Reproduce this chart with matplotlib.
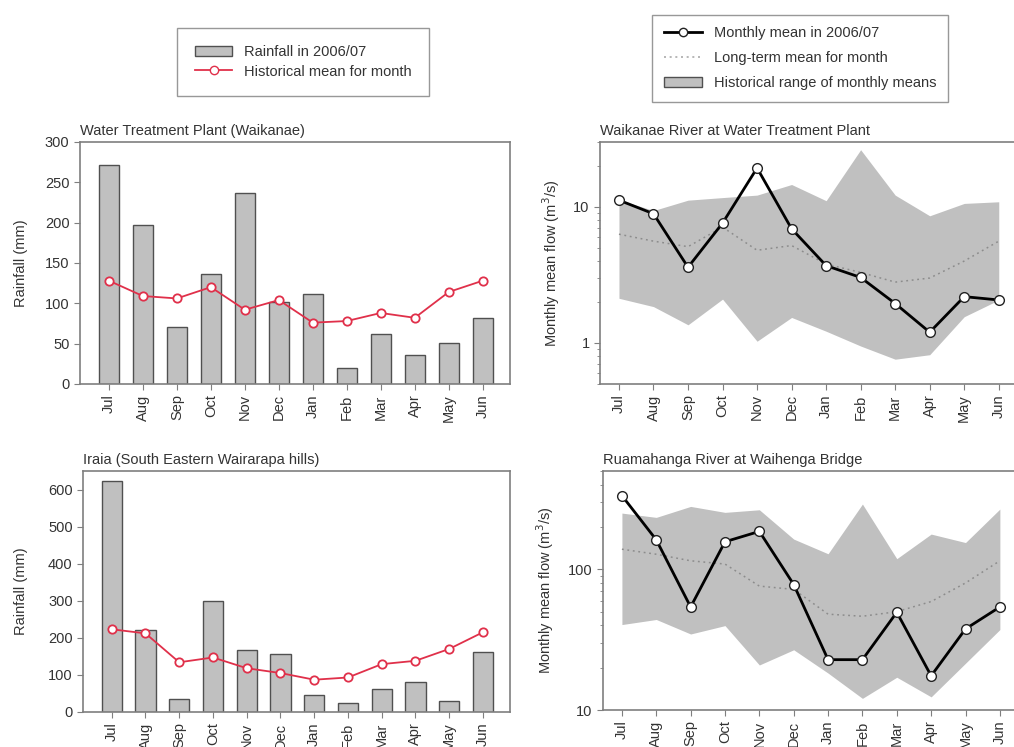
#!/usr/bin/env python3
"""
plot.py - rainfall and river flow for 2006/07 against the historical record
"""
import numpy as np
import matplotlib
matplotlib.use('Agg')
import matplotlib.pyplot as plt
from matplotlib.patches import Patch
from matplotlib.lines import Line2D
from matplotlib.ticker import LogLocator, NullFormatter

months = ['Jul', 'Aug', 'Sep', 'Oct', 'Nov', 'Dec', 'Jan', 'Feb', 'Mar', 'Apr', 'May', 'Jun']

# rainfall, Water Treatment Plant (Waikanae)
wtp_rain = [271, 197, 71, 136, 237, 102, 112, 20, 62, 36, 51, 82]
wtp_hist = [128, 109, 106, 120, 92, 104, 76, 78, 88, 82, 114, 128]

# rainfall, Iraia
iraia_rain = [623, 221, 35, 300, 168, 157, 46, 25, 61, 80, 30, 161]
iraia_hist = [223, 212, 134, 147, 118, 105, 87, 93, 129, 138, 170, 215]

# flow, Waikanae River at Water Treatment Plant
wai_flow = [11.2, 8.9, 3.6, 7.6, 19.3, 6.9, 3.7, 3.03, 1.95, 1.2, 2.19, 2.07]
wai_mean = [6.3, 5.6, 5.1, 7.1, 4.8, 5.2, 3.8, 3.3, 2.8, 3.0, 4.0, 5.6]
wai_hi = [11.3, 9.4, 11.2, 11.7, 12.2, 14.6, 11.1, 26.3, 12.2, 8.6, 10.6, 10.9]
wai_lo = [2.13, 1.85, 1.36, 2.1, 1.03, 1.54, 1.22, 0.95, 0.76, 0.82, 1.56, 2.07]

# flow, Ruamahanga River at Waihenga Bridge
rua_flow = [334, 162, 54, 157, 186, 78, 22.8, 22.8, 49.5, 17.5, 37.7, 54]
rua_mean = [139, 128, 115, 109, 76, 72, 48, 46.4, 50, 59, 80, 115]
rua_hi = [251, 234, 280, 254, 265, 164, 129, 291, 119, 178, 155, 268]
rua_lo = [40.5, 44, 34.7, 39.8, 20.9, 26.8, 18.3, 12.1, 17.1, 12.4, 21.5, 37.3]

plt.rcParams['font.family'] = ['Liberation Sans', 'DejaVu Sans']
plt.rcParams['font.size'] = 10

GRAY = '#7f7f7f'
TXT = '#333333'
BARC = '#c0c0c0'
RED = '#e0304a'

x = np.arange(len(months))


def style(ax):
    for s in ax.spines.values():
        s.set_color(GRAY)
        s.set_linewidth(1.2)
    ax.tick_params(axis='both', which='both', direction='out', color=GRAY,
                   labelcolor=TXT, labelsize=10.5)
    ax.tick_params(which='major', length=4)
    ax.tick_params(which='minor', length=2.5)
    ax.set_xticks(x)
    ax.set_xticklabels(months, rotation=90)


def rain_panel(ax, rain, hist, title, ymax, step):
    ax.bar(x, rain, width=0.6, color=BARC, edgecolor='#505050', linewidth=1.0, zorder=2)
    ax.plot(x, hist, color=RED, lw=1.3, marker='o', ms=6, mfc='white', mec=RED,
            mew=1.3, zorder=3)
    ax.set_xlim(-0.85, 11.8)
    ax.set_ylim(0, ymax)
    ax.set_yticks(np.arange(0, ymax + 1, step))
    ax.set_ylabel('Rainfall (mm)', color=TXT, fontsize=10.5)
    ax.set_title(title, loc='left', fontsize=10.5, color=TXT, pad=5)
    style(ax)


def flow_panel(ax, flow, mean, lo, hi, title, ylim):
    ax.fill_between(x, lo, hi, color=BARC, lw=0, zorder=1)
    ax.plot(x, mean, color='#8c8c8c', lw=1.1, ls=(0, (1.2, 2.4)), zorder=2)
    ax.plot(x, flow, color='black', lw=2, marker='o', ms=7, mfc='white', mec='#222222',
            mew=1.0, zorder=3)
    ax.set_yscale('log')
    ax.set_ylim(*ylim)
    ax.set_xlim(-0.55, 11.55)
    ax.yaxis.set_major_locator(LogLocator(base=10))
    ax.yaxis.set_minor_locator(LogLocator(base=10, subs=np.arange(2, 10)))
    ax.yaxis.set_minor_formatter(NullFormatter())
    ax.yaxis.set_major_formatter(matplotlib.ticker.FuncFormatter(lambda v, p: '%g' % v))
    ax.set_ylabel('Monthly mean flow (m$^3$/s)', color=TXT, fontsize=10.5)
    ax.set_title(title, loc='left', fontsize=10.5, color=TXT, pad=5)
    style(ax)


fig = plt.figure(figsize=(10.14, 7.47), dpi=100)

ax1 = fig.add_axes([0.0789, 0.486, 0.424, 0.324])
ax2 = fig.add_axes([0.5917, 0.486, 0.412, 0.324])
ax3 = fig.add_axes([0.0819, 0.0469, 0.421, 0.3226])
ax4 = fig.add_axes([0.5947, 0.0495, 0.410, 0.320])

rain_panel(ax1, wtp_rain, wtp_hist, 'Water Treatment Plant (Waikanae)', 300, 50)
rain_panel(ax3, iraia_rain, iraia_hist, 'Iraia (South Eastern Wairarapa hills)', 650, 100)
flow_panel(ax2, wai_flow, wai_mean, wai_lo, wai_hi,
           'Waikanae River at Water Treatment Plant', (0.5, 30))
flow_panel(ax4, rua_flow, rua_mean, rua_lo, rua_hi,
           'Ruamahanga River at Waihenga Bridge', (10, 500))

ax1.yaxis.set_label_coords(-0.122, 0.5)
ax3.yaxis.set_label_coords(-0.128, 0.5)
ax2.yaxis.set_label_coords(-0.09, 0.5)
ax4.yaxis.set_label_coords(-0.112, 0.5)

# legends
h1 = [Patch(facecolor=BARC, edgecolor='#505050', lw=1.0),
      Line2D([], [], color=RED, lw=1.3, marker='o', ms=6, mfc='white', mec=RED)]
l1 = ['Rainfall in 2006/07', 'Historical mean for month']
leg1 = fig.legend(h1, l1, loc='center', bbox_to_anchor=(0.299, 0.917), frameon=True,
                  fancybox=False, edgecolor=GRAY, fontsize=10.5, handlelength=2.6,
                  borderpad=1.2, labelspacing=0.35, handletextpad=0.8, borderaxespad=0)
for t in leg1.get_texts():
    t.set_color(TXT)

h2 = [Line2D([], [], color='black', lw=2, marker='o', ms=6, mfc='white', mec='#222222'),
      Line2D([], [], color='#aaaaaa', lw=1.2, ls=(0, (1.2, 2.2))),
      Patch(facecolor=BARC, edgecolor='#505050', lw=1.0)]
l2 = ['Monthly mean in 2006/07', 'Long-term mean for month', 'Historical range of monthly means']
leg2 = fig.legend(h2, l2, loc='center', bbox_to_anchor=(0.789, 0.922), frameon=True,
                  fancybox=False, edgecolor=GRAY, fontsize=10.5, handlelength=2.6,
                  borderpad=0.8, labelspacing=0.75, handletextpad=0.8, borderaxespad=0)
for t in leg2.get_texts():
    t.set_color(TXT)

plt.savefig('out.png', dpi=100)
plt.close('all')
